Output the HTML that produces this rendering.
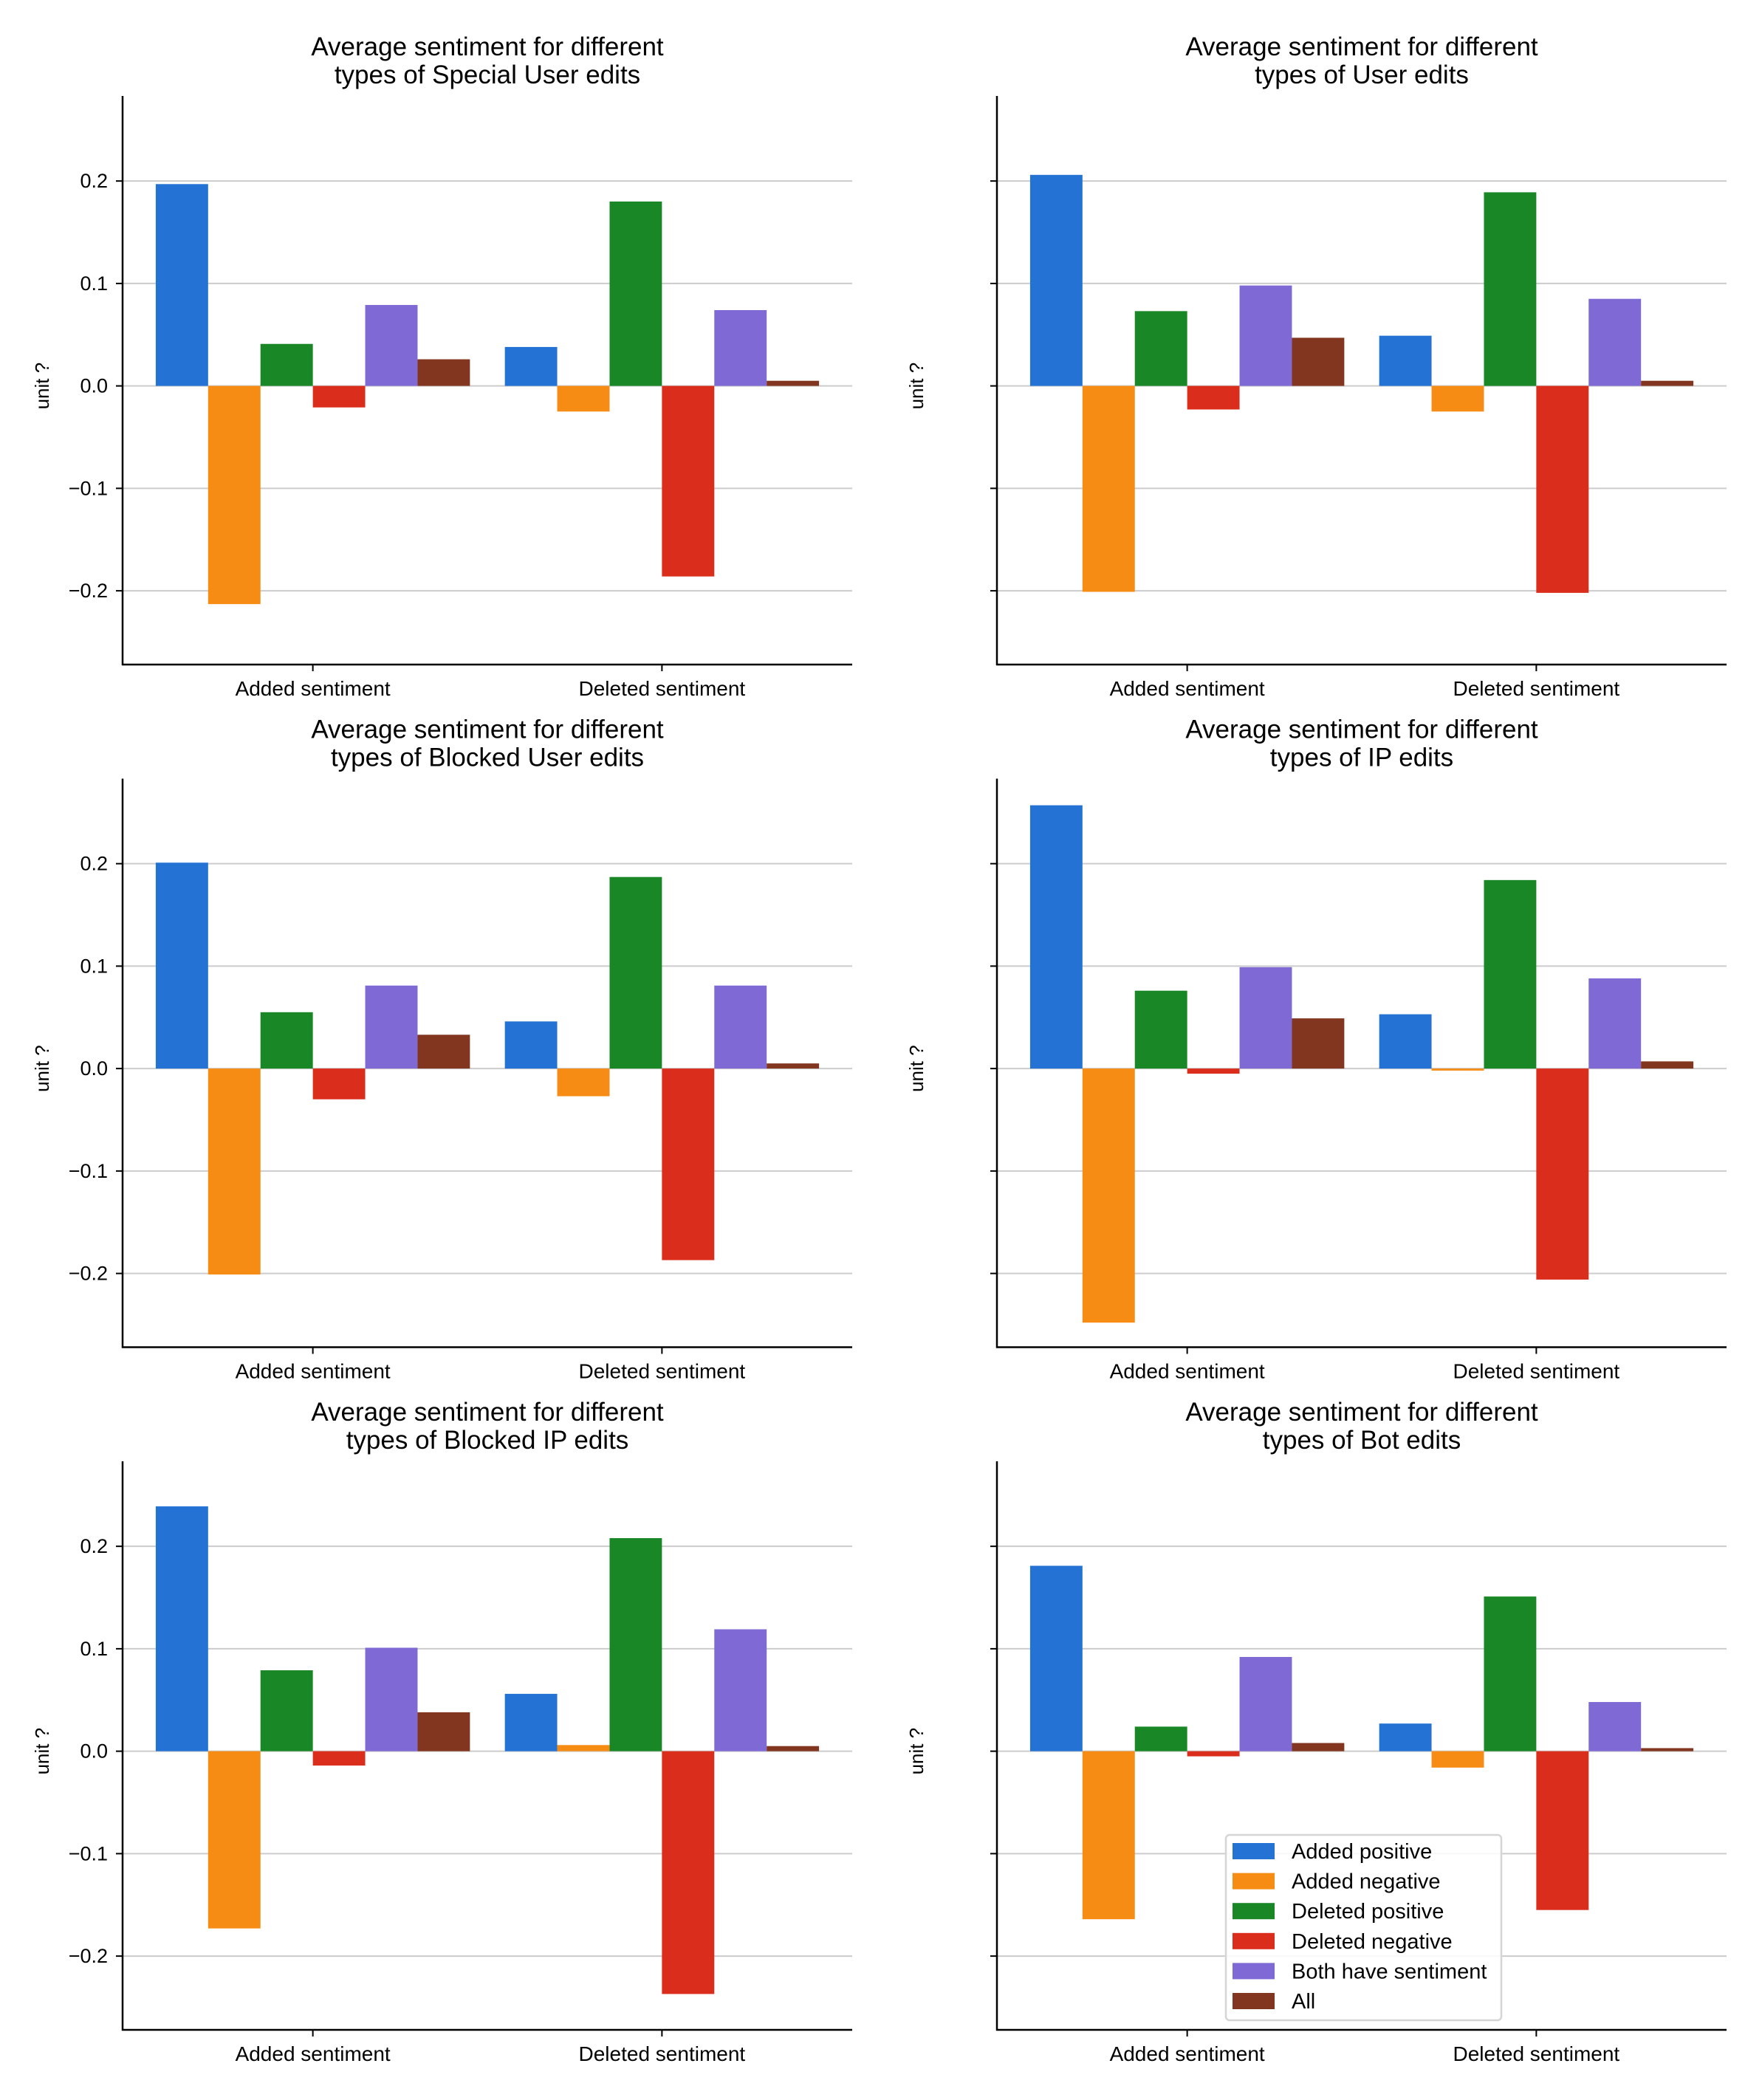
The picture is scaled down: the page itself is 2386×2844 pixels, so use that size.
<!DOCTYPE html>
<html><head><meta charset="utf-8"><style>
html,body{margin:0;padding:0;background:#fff;}
svg{display:block;font-family:"Liberation Sans","DejaVu Sans",sans-serif;}
</style></head>
<body>
<svg id="chart" width="2386" height="2844" viewBox="0 0 2386 2844" xmlns="http://www.w3.org/2000/svg"></svg>
<script>
const categories = ["Added sentiment", "Deleted sentiment"];
const seriesNames = ["Added positive", "Added negative", "Deleted positive", "Deleted negative", "Both have sentiment", "All"];
const panelTitles = ["Special User", "User", "Blocked User", "IP", "Blocked IP", "Bot"];
const yTicks = [-0.2, -0.1, 0.0, 0.1, 0.2];
const yTickLabels = ["\u22120.2", "\u22120.1", "0.0", "0.1", "0.2"];
// values[series][category] per panel
const specialUser = [[0.197,0.038],[-0.213,-0.025],[0.041,0.180],[-0.021,-0.186],[0.079,0.074],[0.026,0.005]];
const user = [[0.206,0.049],[-0.201,-0.025],[0.073,0.189],[-0.023,-0.202],[0.098,0.085],[0.047,0.005]];
const blockedUser = [[0.201,0.046],[-0.201,-0.027],[0.055,0.187],[-0.030,-0.187],[0.081,0.081],[0.033,0.005]];
const ip = [[0.257,0.053],[-0.248,-0.002],[0.076,0.184],[-0.005,-0.206],[0.099,0.088],[0.049,0.007]];
const blockedIp = [[0.239,0.056],[-0.173,0.006],[0.079,0.208],[-0.014,-0.237],[0.101,0.119],[0.038,0.005]];
const bot = [[0.181,0.027],[-0.164,-0.016],[0.024,0.151],[-0.005,-0.155],[0.092,0.048],[0.008,0.003]];
const panelData = [specialUser, user, blockedUser, ip, blockedIp, bot];

const colors = ["#2372d4","#f78c14","#1a8727","#db2d1c","#7f69d4","#82361f"];
const NS = "http://www.w3.org/2000/svg";
const svg = document.getElementById("chart");
function mk(tag, attrs, parent){const e=document.createElementNS(NS,tag);for(const k in attrs)e.setAttribute(k,attrs[k]);(parent||svg).appendChild(e);return e;}

const W = 988, TOP = 130, BOT = 900, Y0 = -0.272, Y1 = 0.283;
const XMIN = -0.545, XMAX = 1.545, BARW = 0.15;

panelData.forEach((data, p) => {
  const col = p % 2, row = Math.floor(p / 2);
  const ox = 166 + col * 1184, oy = row * 924.5;
  const g = mk("g", {});
  
  
  const xs = v => ox + (v - XMIN) / (XMAX - XMIN) * W;
  const ys = v => oy + TOP + (Y1 - v) / (Y1 - Y0) * (BOT - TOP);
  const t = mk("text", {x: ox + W/2, y: oy + 75, "text-anchor":"middle", "font-size":"35", fill:"#000"}, g);
  
  
  mk("tspan", {x: ox + W/2, dy: 0}, t).textContent = "Average sentiment for different";
  mk("tspan", {x: ox + W/2, dy: 38}, t).textContent = "types of " + panelTitles[p] + " edits";
  yTicks.forEach((v, i) => {
    const gl = mk("line", {x1: ox, x2: ox + W, y1: ys(v), y2: ys(v), stroke:"#cccccc", "stroke-width":"2"}, g);
    
    
    mk("line", {x1: ox - 9, x2: ox, y1: ys(v), y2: ys(v), stroke:"#000", "stroke-width":"2"}, g);
    if (col === 0) {
      const tl = mk("text", {x: ox - 20, y: ys(v) + 9, "text-anchor":"end", "font-size":"27", fill:"#000"}, g);
      
      
      tl.textContent = yTickLabels[i];
    }
  });
  const yl = mk("text", {x: 0, y: 0, "text-anchor":"middle", "font-size":"26", fill:"#000", transform:`translate(${ox-100},${ys(0)}) rotate(-90)`}, g);
  
  
  yl.textContent = "unit ?";
  data.forEach((vals, s) => {
    vals.forEach((v, c) => {
      const cx = c + (s - 2.5) * BARW;
      const x0 = xs(cx - BARW/2), x1 = xs(cx + BARW/2);
      const yA = ys(Math.max(v,0)), yB = ys(Math.min(v,0));
      const b = mk("rect", {x: x0, y: yA, width: x1 - x0, height: Math.max(yB - yA, 0.5), fill: colors[s]}, g);
      
      
    });
  });
  mk("line", {x1: ox, x2: ox, y1: oy + TOP, y2: oy + BOT + 1, stroke:"#000", "stroke-width":"2.5"}, g);
  mk("line", {x1: ox - 1, x2: ox + W, y1: oy + BOT, y2: oy + BOT, stroke:"#000", "stroke-width":"2.5"}, g);
  categories.forEach((cat, c) => {
    mk("line", {x1: xs(c), x2: xs(c), y1: oy + BOT, y2: oy + BOT + 9, stroke:"#000", "stroke-width":"2"}, g);
    const xl = mk("text", {x: xs(c), y: oy + BOT + 42, "text-anchor":"middle", "font-size":"28", fill:"#000"}, g);
    
    
    xl.textContent = cat;
  });
});

const lg = mk("g", {});


mk("rect", {x: 1660, y: 2485, width: 373, height: 251, rx: 5, fill:"#fff", "fill-opacity":"0.85", stroke:"#d5d5d5", "stroke-width":"2.5"}, lg);
seriesNames.forEach((n, i) => {
  const cy = 2507 + i * 40.6;
  const sw = mk("rect", {x: 1669, y: cy - 11, width: 57, height: 22, fill: colors[i]}, lg);
  
  
  const tx = mk("text", {x: 1749, y: cy + 10, "font-size":"29", fill:"#000"}, lg);
  
  
  tx.textContent = n;
});
</script>
</body></html>
